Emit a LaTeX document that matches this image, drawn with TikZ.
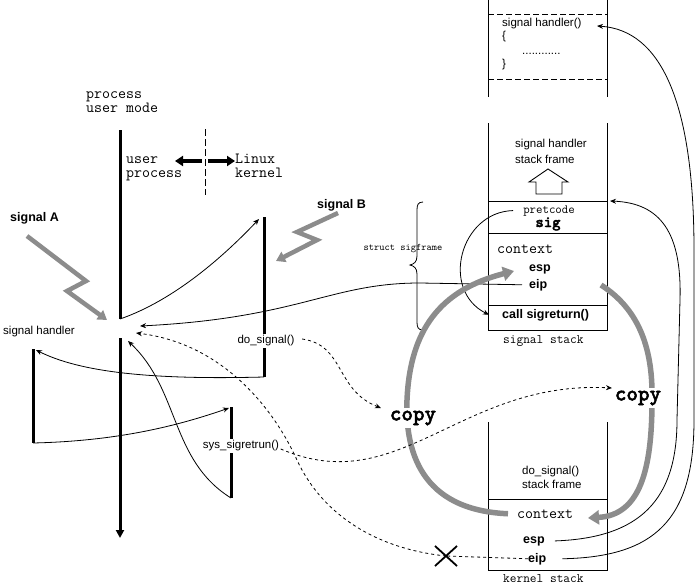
\documentclass[tikz,border=0pt]{standalone}
\usepackage{fontspec}
\setmainfont{Liberation Sans}
\newfontfamily\ttbold{lmmonolt10-bold.otf}[FakeBold=2]
\usetikzlibrary{arrows.meta}
\begin{document}
\begin{tikzpicture}[x=1pt,y=-1pt,
  thickline/.style={line width=3pt},
  thinline/.style={line width=0.8pt},
  arr/.style={-{Stealth[length=6pt,width=5pt]}},
  dashedline/.style={line width=0.8pt, dash pattern=on 3pt off 3pt},
  divline/.style={line width=0.8pt, dash pattern=on 7pt off 3pt},
  grayband/.style={line width=5.5pt, draw=black!45, -{Triangle[length=11pt,width=14pt]}},
  bolt/.style={line width=4.5pt, draw=black!45, -{Triangle[length=9pt,width=11pt]}},
  lbl/.style={font=\fontsize{11.5}{13}\selectfont, inner sep=0pt},
  blbl/.style={font=\fontsize{12.5}{14}\selectfont\bfseries, inner sep=0pt},
  tlbl/.style={font=\fontsize{15.5}{17}\ttfamily, inner sep=0pt},
  slbl/.style={font=\fontsize{13}{15}\ttfamily, inner sep=0pt},
  copylbl/.style={font=\fontsize{22}{24}\ttbold, fill=white, inner sep=3pt},
  stackline/.style={line width=0.9pt},
  bigarr/.style={line width=3.5pt, -{Triangle[length=8pt,width=10pt]}}
]
\useasboundingbox (0,0) rectangle (697,584);

% ---------------- top stack (handler code)
\draw[stackline] (488,0) -- (488,97);
\draw[stackline] (607,0) -- (607,97);
\draw[stackline, dash pattern=on 6pt off 3pt] (488,14) -- (607,14);
\draw[stackline, dash pattern=on 6pt off 3pt] (488,79) -- (607,79);
\node[lbl, anchor=base west] (shc) at (502,26) {signal handler()};
\node[lbl, anchor=base west] (lbr) at (502,39) {\{};
\node[lbl, anchor=base west] (dots) at (522,54) {............};
\node[lbl, anchor=base west] (rbr) at (502,67) {\}};
\coordinate (shcA) at (597,26);

% ---------------- signal stack
\draw[stackline] (488,123) -- (488,330) -- (607,330) -- (607,123);
\draw[stackline] (488,201) -- (607,201);
\draw[stackline] (488,233) -- (607,233);
\draw[stackline] (488,305) -- (607,305);
\node[lbl, anchor=base west] (shf1) at (515,147) {signal handler};
\node[lbl, anchor=base west] (shf2) at (515,163) {stack frame};
\draw[stackline, fill=white] (536,194) -- (536,182) -- (529,182) -- (548,169) -- (568,182) -- (562,182) -- (562,194) -- cycle;
\node[font=\fontsize{12.5}{14}\ttfamily, inner sep=0pt, anchor=base] (pretS) at (549,213) {pretcode};
\node[font=\fontsize{16}{17}\ttbold, inner sep=0pt, anchor=base] (sigS) at (548,227) {sig};
\node[tlbl, anchor=base west] (ctxS) at (497,253) {context};
\node[blbl, anchor=base west] (espS) at (529,271) {esp};
\node[blbl, anchor=base west] (eipS) at (529,288) {eip};
\node[blbl, anchor=base west] (callS) at (502,318) {call sigreturn()};
\node[slbl, anchor=base west] (sstk) at (503,343) {signal stack};
\coordinate (pretA) at (610,201);

% ---------------- kernel stack
\draw[stackline] (488,422) -- (488,570) -- (607,570) -- (607,422);
\draw[stackline] (488,499) -- (607,499);
\node[lbl, anchor=base west] (dsf1) at (522,474) {do\_signal()};
\node[lbl, anchor=base west] (dsf2) at (522,488) {stack frame};
\node[tlbl, anchor=base west] (ctxK) at (517,518) {context};
\node[blbl, anchor=base west] (espK) at (523,543) {esp};
\node[blbl, anchor=base west] (eipK) at (528,562) {eip};
\node[slbl, anchor=base west] (kstk) at (503,582) {kernel stack};

% ---------------- left: process timeline
\node[tlbl, anchor=base west] (pum1) at (86,98) {process};
\node[tlbl, anchor=base west] (pum2) at (86,112) {user mode};
\coordinate (mTop) at (120,130);
\coordinate (mMid) at (120,319);
\coordinate (mLow) at (120,338);
\coordinate (mBot) at (120,538);
\draw[thickline] (mTop) -- (mMid);
\draw[thickline, -{Triangle[length=8pt,width=8pt]}] (mLow) -- (mBot);

\coordinate (dvT) at (205,129);
\coordinate (dvB) at (205,195);
\draw[divline] (dvT) -- (dvB);
\node[tlbl, anchor=base west] (up1) at (126,163) {user};
\node[tlbl, anchor=base west] (up2) at (126,177) {process};
\node[tlbl, anchor=base west] (lk1) at (235,163) {Linux};
\node[tlbl, anchor=base west] (lk2) at (235,177) {kernel};
\coordinate (laS) at (202,161);
\coordinate (laE) at (175,161);
\coordinate (raS) at (208,161);
\coordinate (raE) at (235,161);
\draw[bigarr] (laS) -- (laE);
\draw[bigarr] (raS) -- (raE);

% signals
\node[blbl, anchor=base west] (sigA) at (10,221) {signal A};
\coordinate (la1) at (27,236);
\coordinate (la2) at (86,281);
\coordinate (la3) at (67,291);
\coordinate (la4) at (107,320);
\draw[bolt] (la1) -- (la2) -- (la3) -- (la4);
\node[blbl, anchor=base west] (sigB) at (317,208) {signal B};
\coordinate (lb1) at (338,213);
\coordinate (lb2) at (297,232);
\coordinate (lb3) at (317,240);
\coordinate (lb4) at (276,261);
\draw[bolt] (lb1) -- (lb2) -- (lb3) -- (lb4);

% do_signal line
\coordinate (dsT) at (264,217);
\coordinate (dsTa) at (259,219);
\coordinate (dsB) at (264,377);
\draw[thickline] (dsT) -- (dsB);
\node[lbl, fill=white, inner sep=1.5pt] (dsL) at (266,341) {do\_signal()};

% signal handler line
\node[lbl, anchor=base west] (shL) at (3,334) {signal handler};
\coordinate (shT) at (33,349);
\coordinate (shTa) at (36,350);
\coordinate (shB) at (33,443);
\draw[thickline] (shT) -- (shB);

% sys_sigreturn line
\coordinate (srT) at (231,407);
\coordinate (srTa) at (229,408);
\coordinate (srB) at (231,498);
\draw[thickline] (srT) -- (srB);
\node[lbl, fill=white, inner sep=1.5pt] (srL) at (241,446) {sys\_sigretrun()};

% return points
\coordinate (retA) at (128,341);
\coordinate (retB) at (140,326);
\coordinate (retC) at (136,333);

% ---------------- thin connectors
\draw[thinline, arr] (mMid) .. controls (175,300) and (225,255) .. (dsTa);
\draw[thinline, arr] (dsB) .. controls (150,380) and (80,372) .. (shTa);
\draw[thinline, arr] (shB) .. controls (120,441) and (180,425) .. (srTa);
\draw[thinline, arr] (srB) .. controls (170,460) and (180,390) .. (retA);
\draw[thinline, arr] ([xshift=-7pt]eipS.west) -- (420,283) .. controls (330,283) and (300,318) .. (retB);
\draw[thinline, arr] ([xshift=-10pt]pretS.west) .. controls (460,212) and (440,290) .. ([xshift=-13pt]callS.west);
\draw[thinline, arr] ([xshift=10pt]espK.east) .. controls (640,538) and (677,500) .. (677,420) -- (680,300) .. controls (682,232) and (660,203) .. (pretA);
\draw[thinline, arr] ([xshift=16pt]eipK.east) .. controls (655,557) and (694,520) .. (694,420) -- (694,250) .. controls (694,100) and (660,30) .. (shcA);

% struct sigframe brace
\draw[thinline] (423,202) .. controls (418,202) and (417,205) .. (417,210) -- (417,256) .. controls (417,262) and (414,264) .. (410,265) .. controls (414,266) and (417,268) .. (417,274) -- (417,322) .. controls (417,327) and (418,330) .. (423,330);
\node[font=\fontsize{10}{11}\ttfamily, inner sep=0pt] (sfL) at (403,249) {struct sigframe};

% ---------------- copy bands
\coordinate (cpLend) at (514,271);
\coordinate (cpRst) at (601,285);
\coordinate (cpRend) at (588,518);
\draw[grayband] ([xshift=-9pt]ctxK.west) .. controls (420,510) and (405,450) .. (407,400) .. controls (410,330) and (440,290) .. (cpLend);
\draw[grayband] (cpRst) .. controls (640,310) and (653,350) .. (652,400) .. controls (652,470) and (640,515) .. (cpRend);
\node[copylbl] (copyL) at (413,418) {copy};
\node[copylbl] (copyR) at (638,398) {copy};
\coordinate (cpLin) at (381,408);
\coordinate (cpRin) at (612,388);

% ---------------- dashed connectors
\draw[dashedline, arr] ([xshift=6pt,yshift=2pt]dsL.east) .. controls (345,345) and (335,390) .. (cpLin);
\draw[dashedline, arr] ([yshift=-3pt]srL.east) .. controls (400,500) and (460,380) .. (cpRin);
\coordinate (Xc) at (446,556);
\draw[dashedline] (eipK.west) -- (Xc);
\draw[dashedline, arr] (Xc) .. controls (370,548) and (320,510) .. (297,460) .. controls (272,405) and (220,343) .. (retC);
\draw[line width=1.8pt] (435,546) -- (457,566);
\draw[line width=1.8pt] (435,566) -- (457,546);

\end{tikzpicture}
\end{document}
